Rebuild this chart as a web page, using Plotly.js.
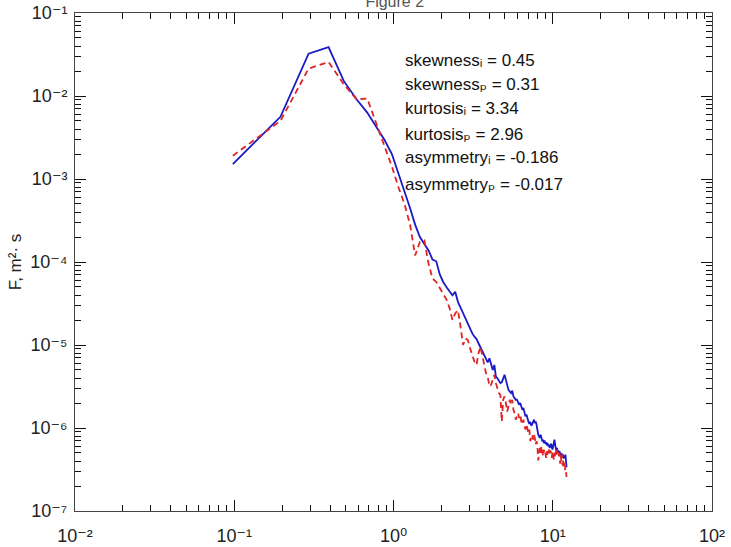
<!DOCTYPE html>
<html>
<head>
<meta charset="utf-8">
<script src="https://cdn.plot.ly/plotly-3.0.1.min.js"></script>
<style>html,body{margin:0;padding:0;background:#fff;}#chart{width:731px;height:547px;}</style>
</head>
<body>
<div id="chart"></div>
<script>
// frequency (Hz)
const freq = [0.098,0.195,0.293,0.391,0.488,0.586,0.684,0.781,0.879,0.977,
1.074,1.172,1.270,1.367,1.465,1.563,1.660,1.758,1.855,1.953,
2.051,2.148,2.246,2.344,2.441,2.539,2.637,2.734,2.832,2.930,
3.027,3.125,3.223,3.320,3.418,3.516,3.613,3.711,3.809,3.906,
4.004,4.102,4.199,4.297,4.395,4.492,4.590,4.688,4.785,4.883,
4.980,5.078,5.176,5.273,5.371,5.469,5.566,5.664,5.762,5.859,
5.957,6.055,6.152,6.250,6.348,6.445,6.543,6.641,6.738,6.836,
6.934,7.031,7.129,7.227,7.324,7.422,7.520,7.617,7.715,7.813,
7.910,8.008,8.105,8.203,8.301,8.398,8.496,8.594,8.691,8.789,
8.887,8.984,9.082,9.180,9.277,9.375,9.473,9.570,9.668,9.766,
9.863,9.961,10.059,10.156,10.254,10.352,10.449,10.547,10.645,10.742,
10.840,10.938,11.035,11.133,11.230,11.328,11.426,11.523,11.621,11.719,
11.816,11.914,12.012,12.109,12.207];

// spectrum i (blue, solid)
const specI = [1.51e-3,5.62e-3,3.24e-2,3.89e-2,1.51e-2,9.12e-3,6.31e-3,4.17e-3,2.95e-3,2.00e-3,
1.20e-3,7.08e-4,4.47e-4,2.82e-4,2.00e-4,1.66e-4,1.38e-4,1.07e-4,1.02e-4,7.08e-5,
5.75e-5,5.01e-5,4.37e-5,3.98e-5,4.37e-5,3.31e-5,2.82e-5,2.40e-5,2.09e-5,1.78e-5,
1.58e-5,1.38e-5,1.26e-5,1.18e-5,1.05e-5,9.33e-6,8.51e-6,7.59e-6,6.61e-6,6.17e-6,
6.92e-6,5.62e-6,5.01e-6,5.75e-6,4.17e-6,3.98e-6,3.72e-6,3.47e-6,3.55e-6,3.98e-6,
4.37e-6,3.80e-6,3.16e-6,2.88e-6,2.75e-6,2.63e-6,2.82e-6,2.40e-6,2.29e-6,2.19e-6,
2.19e-6,2.00e-6,1.91e-6,2.00e-6,1.78e-6,1.66e-6,1.74e-6,1.51e-6,1.38e-6,1.45e-6,
1.26e-6,1.20e-6,1.12e-6,1.18e-6,1.07e-6,1.10e-6,1.18e-6,1.26e-6,1.15e-6,1.20e-6,
1.10e-6,9.12e-7,8.32e-7,7.94e-7,7.59e-7,8.32e-7,7.41e-7,6.92e-7,7.24e-7,6.61e-7,
7.08e-7,6.46e-7,6.76e-7,6.17e-7,6.61e-7,6.03e-7,6.31e-7,5.75e-7,6.17e-7,6.46e-7,
5.89e-7,5.50e-7,6.03e-7,6.61e-7,7.24e-7,6.31e-7,5.62e-7,5.25e-7,5.75e-7,5.01e-7,
5.37e-7,4.79e-7,5.25e-7,4.68e-7,5.01e-7,4.47e-7,4.90e-7,4.37e-7,4.79e-7,4.27e-7,
4.57e-7,4.37e-7,4.79e-7,3.98e-7,3.39e-7];

// spectrum p (red, dashed)
const specP = [1.91e-3,5.01e-3,2.14e-2,2.57e-2,1.38e-2,9.12e-3,9.33e-3,4.68e-3,2.51e-3,1.41e-3,
7.94e-4,5.01e-4,2.82e-4,1.20e-4,1.74e-4,1.82e-4,9.55e-5,6.31e-5,5.75e-5,4.79e-5,
4.17e-5,3.55e-5,2.82e-5,2.00e-5,2.40e-5,2.63e-5,1.66e-5,1.00e-5,1.20e-5,1.15e-5,
9.12e-6,7.59e-6,6.31e-6,5.75e-6,7.94e-6,9.55e-6,7.24e-6,5.75e-6,4.57e-6,4.17e-6,
3.16e-6,3.31e-6,3.80e-6,4.37e-6,3.47e-6,2.88e-6,2.63e-6,2.51e-6,1.20e-6,2.19e-6,
2.40e-6,2.00e-6,1.58e-6,1.82e-6,2.19e-6,1.91e-6,2.19e-6,1.66e-6,1.51e-6,1.26e-6,
1.38e-6,1.51e-6,1.32e-6,1.45e-6,1.20e-6,1.10e-6,1.26e-6,1.05e-6,9.55e-7,1.10e-6,
9.12e-7,8.71e-7,9.55e-7,6.92e-7,7.94e-7,8.32e-7,7.24e-7,8.32e-7,7.59e-7,6.31e-7,
6.92e-7,6.03e-7,4.07e-7,5.50e-7,5.75e-7,5.01e-7,6.03e-7,5.25e-7,4.57e-7,5.50e-7,
4.79e-7,5.01e-7,4.37e-7,5.25e-7,4.57e-7,5.01e-7,5.50e-7,4.79e-7,5.37e-7,5.01e-7,
4.37e-7,5.25e-7,4.68e-7,4.17e-7,5.01e-7,4.47e-7,5.25e-7,4.57e-7,5.50e-7,4.79e-7,
5.13e-7,4.37e-7,5.01e-7,3.72e-7,4.57e-7,3.98e-7,4.79e-7,3.55e-7,4.17e-7,3.31e-7,
3.80e-7,3.09e-7,3.47e-7,2.82e-7,2.57e-7];

// tick labels
const xTickVals = [0.01, 0.1, 1, 10, 100];
const xTickText = ['10\u207B\u00B2','10\u207B\u00B9','10\u2070','10\u00B9','10\u00B2'];
const yTickVals = [1e-7,1e-6,1e-5,1e-4,1e-3,1e-2,1e-1];
const yTickText = ['10\u207B\u2077','10\u207B\u2076','10\u207B\u2075','10\u207B\u2074','10\u207B\u00B3','10\u207B\u00B2','10\u207B\u00B9'];

// statistics text
const statLabels = ['skewness\u1D62 = 0.45','skewness\u209A = 0.31','kurtosis\u1D62 = 3.34',
                    'kurtosis\u209A = 2.96','asymmetry\u1D62 = -0.186','asymmetry\u209A = -0.017'];
const titleText = 'Figure 2';
const yTitle = 'F, m\u00B2\u00B7 s';

function minorVals(e0, e1) {
  const out = [];
  for (let e = e0; e < e1; e++) for (let m = 2; m <= 9; m++) out.push(m * Math.pow(10, e));
  return out;
}

const font = 'Liberation Sans, DejaVu Sans, Arial, sans-serif';
const ink = '#111';

const data = [
  {x: freq, y: specI, type: 'scatter', mode: 'lines', name: 'i',
   line: {color: '#1a1ac8', width: 1.8}},
  // drawn on the overlay axes (same ranges), which also carry the minor ticks
  {x: freq, y: specP, type: 'scatter', mode: 'lines', name: 'p', xaxis: 'x2', yaxis: 'y2',
   line: {color: '#e02424', width: 1.8, dash: '6px,4px'}}
];

const yPos = [0.904, 0.857, 0.809, 0.757, 0.709, 0.655];
const annotations = statLabels.map((t, i) => ({
  text: t, xref: 'paper', yref: 'paper', x: 0.515, y: yPos[i],
  xanchor: 'left', yanchor: 'middle', showarrow: false,
  font: {family: font, size: 17, color: ink}
}));

const layout = {
  width: 731, height: 547,
  margin: {l: 75, r: 19, t: 13, b: 36},
  showlegend: false,
  title: {text: titleText, x: 0.54, xanchor: 'center', y: 0.998, yref: 'container', yanchor: 'middle',
          font: {family: font, size: 16, color: '#555'}},
  xaxis: {
    type: 'log', range: [-2, 2], showgrid: false,
    showline: true, linecolor: ink, mirror: 'ticks',
    ticks: 'inside', ticklen: 11, tickcolor: ink,
    tickmode: 'array', tickvals: xTickVals, ticktext: xTickText,
    ticklabelstandoff: 8,
    tickfont: {family: font, size: 18, color: '#222'}
  },
  yaxis: {
    type: 'log', range: [-7, -1], showgrid: false,
    showline: true, linecolor: ink, mirror: 'ticks',
    ticks: 'inside', ticklen: 11, tickcolor: ink,
    tickmode: 'array', tickvals: yTickVals, ticktext: yTickText,
    ticklabelstandoff: 3,
    tickfont: {family: font, size: 18, color: '#222'},
    title: {text: yTitle, font: {family: font, size: 17, color: '#222'}, standoff: 4}
  },
  xaxis2: {
    type: 'log', overlaying: 'x', anchor: 'y', side: 'bottom', range: [-2, 2],
    showgrid: false, showline: true, mirror: 'ticks',
    ticks: 'inside', ticklen: 6, tickcolor: ink,
    tickmode: 'array', tickvals: minorVals(-2, 2), showticklabels: false
  },
  yaxis2: {
    type: 'log', overlaying: 'y', anchor: 'x', side: 'left', range: [-7, -1],
    showgrid: false, showline: true, mirror: 'ticks',
    ticks: 'inside', ticklen: 6, tickcolor: ink,
    tickmode: 'array', tickvals: minorVals(-7, -1), showticklabels: false
  },
  annotations: annotations
};

Plotly.newPlot('chart', data, layout, {displayModeBar: false, staticPlot: true});
</script>
</body>
</html>
